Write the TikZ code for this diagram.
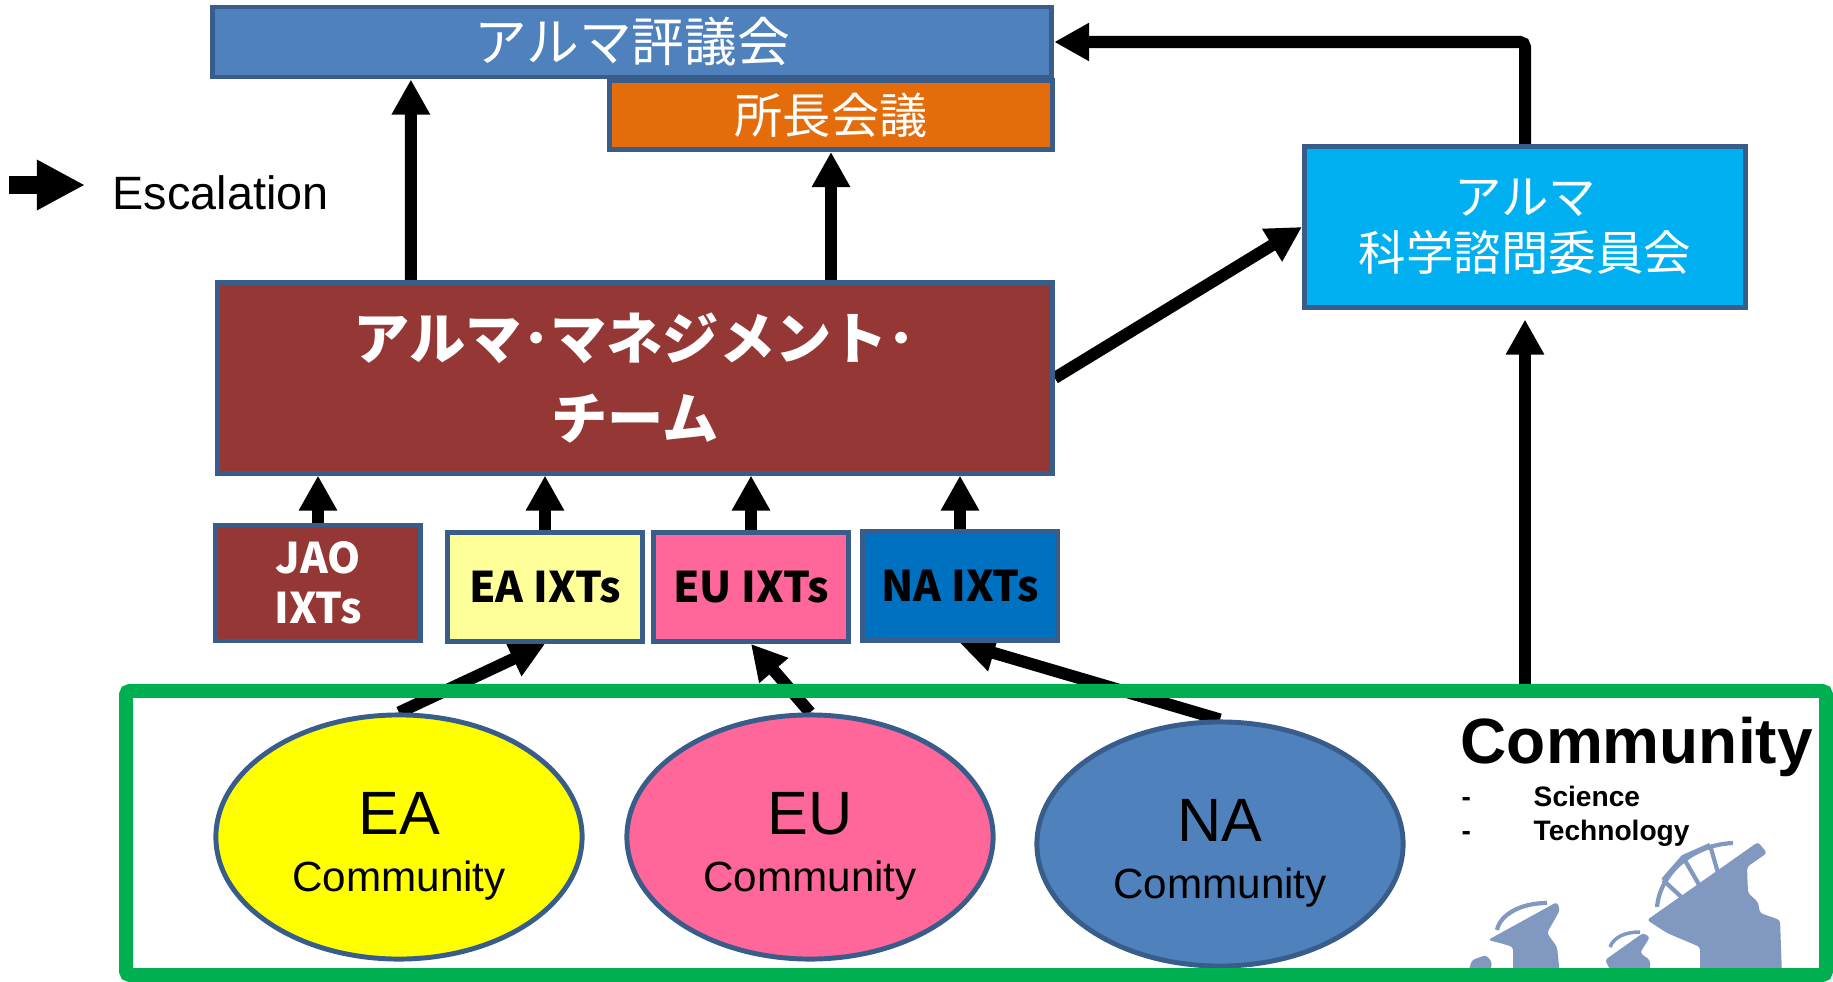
\documentclass[tikz,border=0pt]{standalone}
\usepackage{fontspec}
\setmainfont{Liberation Sans}
\newfontfamily\jp{Noto Sans CJK JP}
\usetikzlibrary{arrows.meta, shapes.geometric, backgrounds}

\definecolor{boxrim}{HTML}{385D8A}
\definecolor{councilblue}{HTML}{4F81BD}
\definecolor{dirsorange}{HTML}{E46C0A}
\definecolor{asacblue}{HTML}{00B0F0}
\definecolor{amtred}{HTML}{953735}
\definecolor{eapale}{HTML}{FFFF99}
\definecolor{eayellow}{HTML}{FFFF00}
\definecolor{eupink}{HTML}{FF6699}
\definecolor{nadeep}{HTML}{0070C0}
\definecolor{regiongreen}{HTML}{00B050}
\definecolor{antenna}{HTML}{8199C0}

\begin{document}
\begin{tikzpicture}[x=0.01cm, y=-0.01cm,
  box/.style={draw=boxrim, line width=1.4pt, inner sep=0pt, align=center},
  ixt/.style={box, minimum width=1.95cm, minimum height=1.09cm,
    font=\jp\bfseries\fontsize{12}{14.2}\selectfont},
  comm/.style={ellipse, draw=boxrim, line width=1.4pt, inner sep=0pt,
    minimum width=3.66cm, minimum height=2.44cm},
  commtext/.style={align=center, inner sep=0pt, font=\fontsize{12}{16.2}\selectfont},
  esc/.style={line width=0.12cm, -{Triangle[length=0.35cm, width=0.36cm]}},
  keyarrow/.style={line width=0.17cm, -{Triangle[length=0.48cm, width=0.47cm]}},
  dish/.style={fill=antenna, rounded corners=0.03cm},
  truss/.style={draw=antenna, line width=1.2pt}]

\useasboundingbox (0,0) rectangle (1833,982);

% legend
\coordinate (keytail) at (9,185);
\coordinate (keyhead) at (85,185);
\node[anchor=base west, inner sep=0pt, font=\fontsize{13.3}{16}\selectfont] (key) at (112,209) {Escalation};
\draw[keyarrow] (keytail) -- (keyhead);

% boards and committees
\node[box, fill=councilblue, text=white, font=\jp\fontsize{15}{18}\selectfont,
  minimum width=8.39cm, minimum height=0.70cm] (council) at (632,42) {アルマ評議会};
\node[box, fill=dirsorange, text=white, font=\jp\fontsize{13.7}{16}\selectfont,
  minimum width=4.42cm, minimum height=0.69cm] (dirs) at (831,115) {所長会議};
\node[box, fill=asacblue, text=white, font=\jp\fontsize{13.5}{16}\selectfont,
  minimum width=4.41cm, minimum height=1.60cm] (asac) at (1525,227) {アルマ\\科学諮問委員会};
\node[box, fill=amtred, text=white, font=\jp\bfseries\fontsize{16}{22.8}\selectfont,
  minimum width=8.34cm, minimum height=1.90cm] (amt) at (635,378) {アルマ･マネジメント･\\チーム};

% integrated teams
\node[ixt, fill=amtred, text=white, minimum width=2.05cm, minimum height=1.16cm] (jao) at (318,583) {JAO\\IXTs};
\node[ixt, fill=eapale] (eaixt) at (545,587) {EA IXTs};
\node[ixt, fill=eupink] (euixt) at (751,587) {EU IXTs};
\node[ixt, fill=nadeep] (naixt) at (960,586) {NA IXTs};

% communities
\node[comm, fill=eayellow] (ea) at (399,837) {};
\node[comm, fill=eupink] (eu) at (810,837) {};
\node[comm, fill=councilblue] (na) at (1220,844) {};
\foreach \c/\t in {ea/EA, eu/EU, na/NA}
  \node[commtext] (\c text) at ([yshift=-0.09cm]\c.center) {{\fontsize{17.4}{16.2}\selectfont \t}\\Community};

\node[draw=regiongreen, line width=0.14cm, inner sep=0pt, rounded corners=0.04cm,
  minimum width=16.99cm, minimum height=2.84cm] (region) at (976,833) {};

\node[anchor=base west, inner sep=0pt, font=\bfseries\fontsize{18.2}{20}\selectfont] (commtitle) at (1460,763) {Community};
\node[anchor=base west, inner sep=0pt, font=\bfseries\fontsize{8}{10}\selectfont] (sci) at (1461,806) {\makebox[0.72cm][l]{-}Science};
\node[anchor=base west, inner sep=0pt, font=\bfseries\fontsize{8}{10}\selectfont] (tech) at (1461,840) {\makebox[0.72cm][l]{-}Technology};

\begin{scope}[on background layer]
  % antennas
  \begin{scope}
    \clip (134,698) rectangle (1819,968);
    \fill[dish] (1647,920) -- (1758,842) -- (1767,853) -- (1747,867) -- (1748,893)
      -- (1758,902) -- (1760,913) -- (1780,920) -- (1782,975) -- (1700,975)
      -- (1700,947) -- (1667,933) -- cycle;
    \draw[truss] (1657,907) .. controls (1660,875) and (1690,845) .. (1733,843);
    \draw[truss] (1663,880) -- (1690,905) (1683,857) -- (1705,895) (1710,845) -- (1720,880)
      (1663,880) -- (1683,857) -- (1710,845);
    \fill[dish] (1488,940) -- (1557,902) -- (1560,910) -- (1547,933) -- (1557,947)
      -- (1560,975) -- (1513,975) -- (1513,947) -- (1500,943) -- cycle;
    \draw[truss] (1497,930) .. controls (1500,915) and (1520,903) .. (1547,903);
    \fill[dish] (1605,960) -- (1643,933) -- (1650,937) -- (1640,953) -- (1650,960)
      -- (1650,975) -- (1613,975) -- cycle;
    \draw[truss, line width=1pt] (1610,947) .. controls (1614,937) and (1625,932) .. (1640,932);
    \fill[dish] (1467,975) -- (1472,960) -- (1486,955) -- (1492,962) -- (1490,975) -- cycle;
  \end{scope}
  % escalation paths
  \draw[esc] ([xshift=-2.24cm]amt.north) -- ([xshift=-2.21cm]council.south);
  \draw[esc] (amt.north -| dirs.south) -- (dirs.south);
  \draw[esc] (amt.east) -- (asac.west);
  \draw[esc, rounded corners=0.05cm] (asac.north) |- (council.east);
  \draw[esc, shorten >=0.1cm] (region.north -| asac.south) -- (asac.south);
  \foreach \t in {jao, eaixt, euixt, naixt}
    \draw[esc] (\t.north) -- (\t.north |- amt.south);
  \draw[esc] (ea.north) -- (eaixt.south);
  \draw[esc] (eu.north) -- (euixt.south);
  \draw[esc] (na.north) -- (naixt.south);
\end{scope}
\end{tikzpicture}
\end{document}
